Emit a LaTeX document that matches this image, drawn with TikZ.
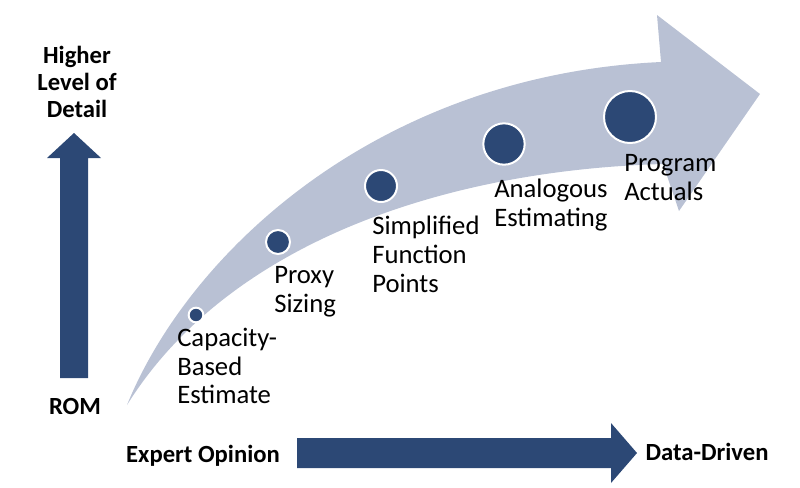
\documentclass[tikz,border=0pt]{standalone}
\usepackage{fontspec}
\setmainfont{Carlito}
\definecolor{navy}{RGB}{44,72,117}
\definecolor{pale}{RGB}{185,193,212}
\tikzset{
  dot/.style={circle,fill=navy,draw=white,line width=1.5pt,inner sep=0pt},
  steplabel/.style={anchor=north west,align=left,inner sep=0pt,font=\fontsize{20}{21.5}\selectfont},
  axislabel/.style={font=\bfseries\fontsize{18.5}{20}\selectfont,align=center,inner sep=0pt}
}
\begin{document}
\begin{tikzpicture}[x=0.75pt,y=0.75pt,yscale=-1,xscale=1]
    \useasboundingbox (0,0) rectangle (800,487);
    
    %Shape: Curved Arrow
    \fill [pale] (127,405) .. controls (190,250) and (380,75) .. (661,62) -- (657,15) -- (760,94) -- (679,211) -- (663,164) .. controls (450,170) and (230,240) .. cycle ;
    %Shape: Up Arrow
    \fill [navy] (60,378) -- (60,158) -- (47,158) -- (74,133) -- (101,158) -- (88,158) -- (88,378) -- cycle ;
    %Shape: Right Arrow
    \fill [navy] (297,438) -- (611,438) -- (611,423) -- (637,453) -- (611,483) -- (611,468) -- (297,468) -- cycle ;
    
    %Circles
    \node [dot,minimum size=11pt] (c1) at (196,315) {};
    \node [dot,minimum size=18pt] (c2) at (278,242) {};
    \node [dot,minimum size=24pt] (c3) at (381,186) {};
    \node [dot,minimum size=31pt] (c4) at (504,144) {};
    \node [dot,minimum size=39pt] (c5) at (630,117) {};
    
    % Text Node
    \node [steplabel] (t1) at (177,328) {Capacity-\\Based\\Estimate};
    % Text Node
    \node [steplabel] (t2) at (274,266) {Proxy\\Sizing};
    % Text Node
    \node [steplabel] (t3) at (372,216) {Simplified\\Function\\Points};
    % Text Node
    \node [steplabel] (t4) at (494,179) {Analogous\\Estimating};
    % Text Node
    \node [steplabel] (t5) at (624,154) {Program\\Actuals};
    
    % Text Node
    \node [axislabel] (hi) at (77,82) {Higher\\Level of\\Detail};
    % Text Node
    \node [axislabel] (rom) at (75,406) {ROM};
    % Text Node
    \node [axislabel] (exp) at (203,456) {Expert Opinion};
    % Text Node
    \node [axislabel] (data) at (707,452) {Data-Driven};
\end{tikzpicture}
\end{document}
